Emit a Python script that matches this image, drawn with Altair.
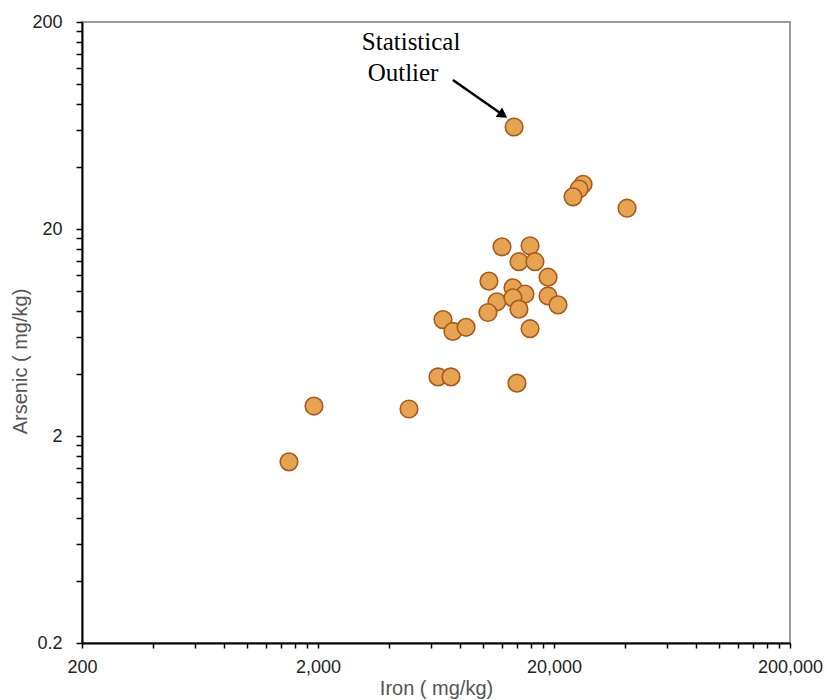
import altair as alt
import pandas as pd

# Data
iron = [26550, 25530, 24080, 40800, 12040, 15830, 14210, 16610, 10600, 18870,
        13400, 15070, 18870, 11460, 13400, 10500, 14210, 20800, 6770, 7460,
        8480, 15830, 6450, 7320, 13940, 1923, 4860, 1507, 13550]
arsenic = [32.9, 31.2, 28.6, 25.2, 16.4, 16.6, 13.9, 13.9, 11.2, 11.7,
           10.4, 9.7, 9.5, 8.9, 9.3, 7.9, 8.2, 8.6, 7.3, 6.4,
           6.7, 6.6, 3.86, 3.86, 3.6, 2.79, 2.70, 1.50, 62.2]

x_major = [200, 2000, 20000, 200000]
y_major = [0.2, 2, 20, 200]
x_ticks = sorted(set([200 * k for k in range(1, 11)] + [2000 * k for k in range(1, 11)]
                     + [20000 * k for k in range(1, 11)]))
y_ticks = sorted(set([round(0.2 * k, 1) for k in range(1, 11)] + [2 * k for k in range(1, 11)]
                     + [20 * k for k in range(1, 11)]))

# Annotation
note_text = ["Statistical", "Outlier"]
note_x = [4960, 4585]
note_y = [160, 113.5]
arrow_x = [7460]
arrow_y = [105]
arrow_x2 = [12160]
arrow_y2 = [71.1]

df = pd.DataFrame({"Iron": iron, "Arsenic": arsenic})
notes = pd.DataFrame({"t": note_text, "x": note_x, "y": note_y})
arrow = pd.DataFrame({"x": arrow_x, "y": arrow_y, "x2": arrow_x2, "y2": arrow_y2})

xscale = alt.Scale(type="log", domain=[200, 200000], nice=False)
yscale = alt.Scale(type="log", domain=[0.2, 200], nice=False)

xaxis = alt.Axis(
    title="Iron ( mg/kg)", values=x_ticks,
    labelExpr="indexof([200, 2000, 20000, 200000], datum.value) >= 0 ? format(datum.value, ',') : ''",
    labelOverlap=False, labelFlush=False, grid=False,
    tickSize=5, tickColor="#000", domainColor="#000", domainWidth=2, tickWidth=1.5,
    labelFont="Liberation Sans", labelFontSize=18, labelColor="#222", labelPadding=10,
    titleFont="Liberation Sans", titleFontSize=20, titleFontWeight="normal", titleColor="#555",
    titlePadding=2,
)
yaxis = alt.Axis(
    title="Arsenic ( mg/kg)", values=y_ticks,
    labelExpr="indexof([0.2, 2, 20, 200], datum.value) >= 0 ? toString(datum.value) : ''",
    labelOverlap=False, labelFlush=False, grid=False,
    tickSize=6, tickColor="#000", domainColor="#000", domainWidth=2, tickWidth=1.5,
    labelFont="Liberation Sans", labelFontSize=18, labelColor="#222", labelPadding=14,
    titleFont="Liberation Sans", titleFontSize=20, titleFontWeight="normal", titleColor="#555",
    titleX=-62, titleY=339, titleBaseline="middle", titleAngle=270,
)

points = alt.Chart(df).mark_circle(
    size=310, color="#E6A352", opacity=1, stroke="#A9591B", strokeWidth=1.6
).encode(
    x=alt.X("Iron:Q", scale=xscale, axis=xaxis),
    y=alt.Y("Arsenic:Q", scale=yscale, axis=yaxis),
)

text = alt.Chart(notes).mark_text(
    font="Liberation Serif", fontSize=25, color="#000", align="center", baseline="middle"
).encode(
    x=alt.X("x:Q", scale=xscale), y=alt.Y("y:Q", scale=yscale), text="t:N"
)

line = alt.Chart(arrow).mark_rule(color="#000", strokeWidth=2.5).encode(
    x=alt.X("x:Q", scale=xscale), y=alt.Y("y:Q", scale=yscale),
    x2="x2:Q", y2="y2:Q",
)

head = alt.Chart(arrow).mark_point(
    shape="triangle-right", filled=True, color="#000", size=130, angle=34, opacity=1
).encode(
    x=alt.X("x2:Q", scale=xscale), y=alt.Y("y2:Q", scale=yscale),
)

chart = alt.layer(points, line, head, text).properties(
    width=708, height=621,
    autosize=alt.AutoSizeParams(type="none"),
    padding={"left": 82, "top": 22, "right": 37, "bottom": 57},
    background="white",
).configure_view(stroke="#9a9a9a", strokeWidth=2)

chart.save("out.html", embed_options={"renderer": "svg", "actions": False})
